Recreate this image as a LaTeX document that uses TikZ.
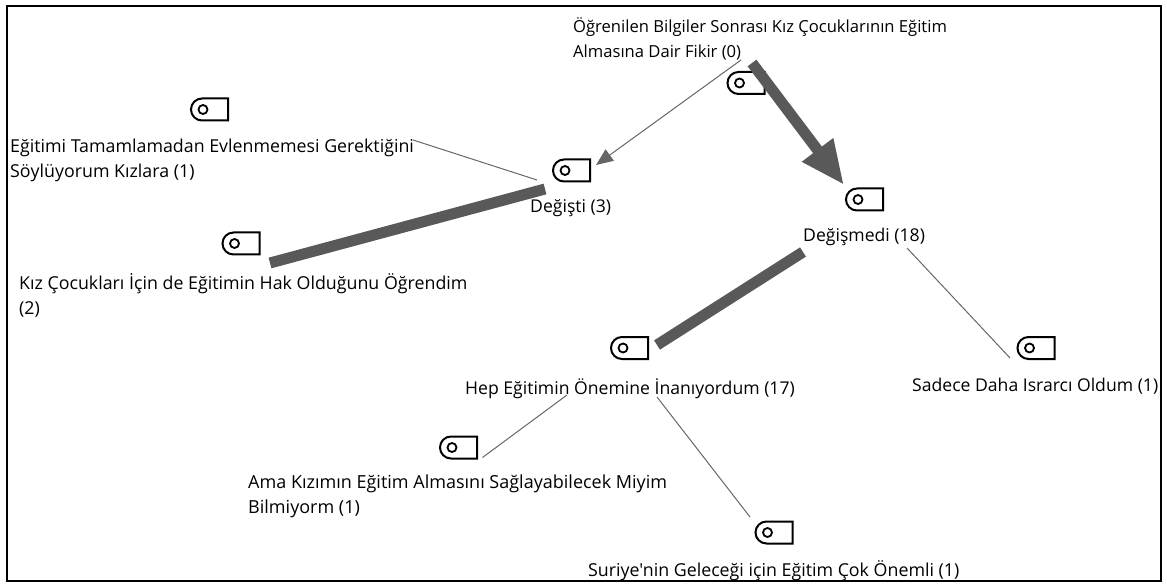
\documentclass[tikz,border=0pt]{standalone}
\usepackage{fontspec}
\setmainfont{Open Sans}[Ligatures=TeXOff]
\usetikzlibrary{arrows.meta,shapes.misc}
\tikzset{
	tagbox/.style={draw=black,line width=2pt,fill=white,rounded rectangle,rounded rectangle right arc=none,minimum width=37pt,minimum height=22pt,inner sep=0pt},
	taghole/.style={draw=black,line width=1.8pt,circle,minimum size=9pt,inner sep=0pt},
	lbl/.style={anchor=north west,align=left,inner sep=0pt,font=\fontsize{17.8}{25}\selectfont},
	lblsmall/.style={lbl,font=\fontsize{17.6}{25}\selectfont},
	thinlink/.style={draw=black!60,line width=1pt},
	thicklink/.style={draw=black!65,line width=11pt},
}
\begin{document}
\begin{tikzpicture}[x=1pt,y=-1pt]
	\useasboundingbox (0,0) rectangle (1167,585);
	\draw[line width=2pt] (7,6) rectangle (1161,581);
	\foreach\n/\x/\y in{Fikir/746/83,Egitimi/209.5/109.5,Degisti/571.5/170.5,Degismedi/864.5/199.5,Kiz/241/243.5,Hep/629.5/348,Sadece/1036/348,Ama/458.5/447.5,Suriye/774/532.5} {\node[tagbox] (tag\n) at (\x,\y) {};
		\node[taghole] (hole\n) at ([xshift=13pt]tag\n.west) {};}
	\node[lbl,font=\fontsize{16.6}{25}\selectfont] (lblFikir) at (573,17) {Öğrenilen Bilgiler Sonrası Kız Çocuklarının Eğitim\\Almasına Dair Fikir (0)};
	\node[lbl] (lblEgitimi) at (10,139) {Eğitimi Tamamlamadan Evlenmemesi Gerektiğini\\Söylüyorum Kızlara (1)};
	\node[lblsmall] (lblDegisti) at (530,199) {Değişti (3)};
	\node[lblsmall] (lblDegismedi) at (803,228) {Değişmedi (18)};
	\node[lbl] (lblKiz) at (19,273) {Kız Çocukları İçin de Eğitimin Hak Olduğunu Öğrendim\\(2)};
	\node[lblsmall] (lblHep) at (465,378) {Hep Eğitimin Önemine İnanıyordum (17)};
	\node[lblsmall] (lblSadece) at (912,378) {Sadece Daha Israrcı Oldum (1)};
	\node[lbl,font=\fontsize{18}{25}\selectfont] (lblAma) at (248,475) {Ama Kızımın Eğitim Almasını Sağlayabilecek Miyim\\Bilmiyorm (1)};
	\node[lbl] (lblSuriye) at (588,560) {Suriye'nin Geleceği için Eğitim Çok Önemli (1)};
	\draw[thinlink,-{Triangle[length=17pt,width=14pt]}] ([shift={(168,43)}]lblFikir.north west) -- ([shift={(24.5,-5.5)}]tagDegisti.center);
	\draw[thicklink,-{Triangle[length=44pt,width=36pt]}] ([shift={(6,-20)}]tagFikir.center) -- ([shift={(-20.5,-14.5)}]tagDegismedi.center);
	\draw[thinlink] ([shift={(403,1)}]lblEgitimi.north west) -- ([shift={(-34.5,9.5)}]tagDegisti.center);
	\draw[thicklink] ([shift={(-26.5,18.5)}]tagDegisti.center) -- ([shift={(29,19.5)}]tagKiz.center);
	\draw[thicklink] ([shift={(-61.5,52.5)}]tagDegismedi.center) -- ([shift={(27.5,-3)}]tagHep.center);
	\draw[thinlink] ([shift={(104,20)}]lblDegismedi.north west) -- ([shift={(-26,10)}]tagSadece.center);
	\draw[thinlink] ([shift={(102,17)}]lblHep.north west) -- ([shift={(24,10)}]tagAma.center);
	\draw[thinlink] ([shift={(192,19)}]lblHep.north west) -- ([shift={(-24,-15.5)}]tagSuriye.center);
\end{tikzpicture}
\end{document}
